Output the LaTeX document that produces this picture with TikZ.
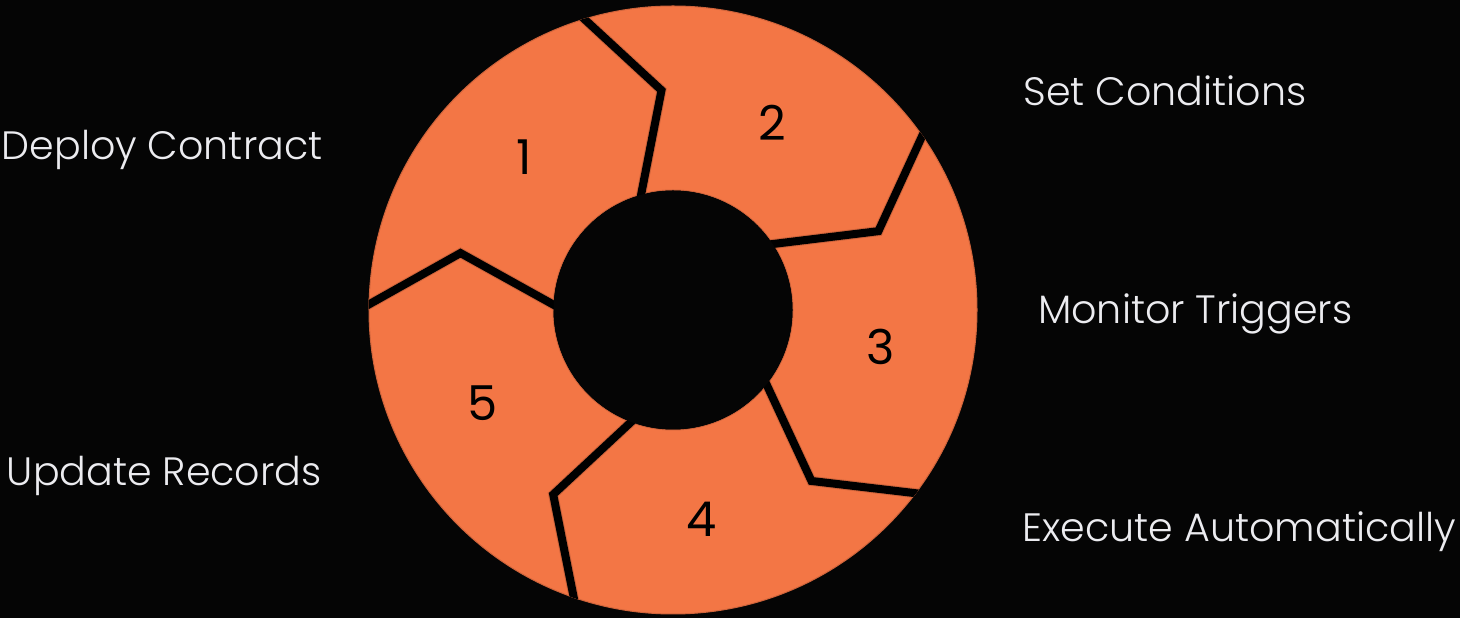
\documentclass[tikz,border=0pt]{standalone}
\usepackage{fontspec}
\setmainfont{Poppins}
\newfontfamily\poplight{Poppins Light}
\definecolor{ringorange}{RGB}{243,118,69}
\definecolor{labelgray}{RGB}{236,236,240}
\tikzset{
    RG/.style ={fill=ringorange, draw=ringorange!85!black, line width=1pt, even odd rule},
    SP/.style ={draw=black, line width=8pt, line join=miter,
                preaction={draw=ringorange!85!black, line width=10pt}},
    NB/.style ={inner sep=0pt, font=\fontsize{48}{48}\selectfont, text=black},
    LB/.style ={inner sep=0pt, anchor=base west, font=\poplight\fontsize{39.6}{40}\selectfont, text=labelgray}}
\begin{document}
\begin{tikzpicture}[x=1pt,y=1pt]
        \fill[black!98!white] (0,0) rectangle (1460,618);
        \useasboundingbox (0,0) rectangle (1460,618);
        \coordinate (C) at (673,308);
        \path[RG] (C) circle (304pt) (C) circle (120pt);
        \begin{scope}
        \clip (C) circle (304.5pt);
        \draw[SP,shift={(C)}] (108:314pt) -- (93:220pt) -- (108:110pt);
        \draw[SP,shift={(C)}] (36:314pt) -- (21:220pt) -- (36:110pt);
        \draw[SP,shift={(C)}] (-36:314pt) -- (-51:220pt) -- (-36:110pt);
        \draw[SP,shift={(C)}] (-108:314pt) -- (-123:220pt) -- (-108:110pt);
        \draw[SP,shift={(C)}] (180:314pt) -- (165:220pt) -- (180:110pt);
        \end{scope}
        \fill[black!98!white] (C) circle (119.5pt);
        \node[NB] (1) at (524.5,461.3){1};
        \node[NB] (2) at (772,495.5){2};
        \node[NB] (3) at (881,271.5){3};
        \node[NB] (4) at (702,99){4};
        \node[NB] (5) at (483,215){5};
        \node[LB] (deploy) at (1.5,458.7){Deploy Contract};
        \node[LB] (conditions) at (1023.4,512.3){Set Conditions};
        \node[LB] (triggers) at (1038,294.7){Monitor Triggers};
        \node[LB] (execute) at (1022.5,76.3){Execute Automatically};
        \node[LB] (records) at (6.7,132.3){Update Records};
    \end{tikzpicture}
\end{document}
